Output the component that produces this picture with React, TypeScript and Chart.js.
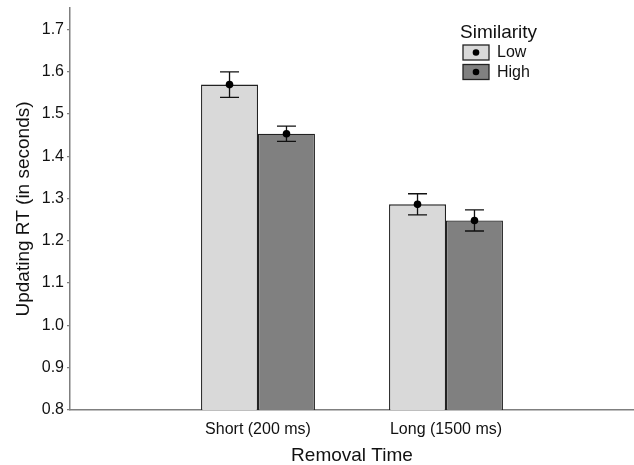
import React, { useEffect, useRef } from "react";
import { Chart, registerables } from "chart.js";

Chart.register(...registerables);

const categories = ["Short (200 ms)", "Long (1500 ms)"];
const seriesNames = ["Low", "High"];
const lowMeans = [1.569, 1.286];
const highMeans = [1.453, 1.248];
const lowErrors = [0.030, 0.025];
const highErrors = [0.018, 0.025];
const yTicks = [0.8, 0.9, 1.0, 1.1, 1.2, 1.3, 1.4, 1.5, 1.6, 1.7];
const yMin = 0.8;
const yMax = 1.75;
const legendTitle = "Similarity";
const xTitle = "Removal Time";
const yTitle = "Updating RT (in seconds)";

const FONT = "'Liberation Sans', Arial, Helvetica, sans-serif";
const LIGHT = "#d9d9d9";
const DARK = "#808080";
const EDGE = "#222222";
const AXIS = "#7f7f7f";

const errorsBySeries = [lowErrors, highErrors];

const errorBarPlugin = {
  id: "errorBars",
  afterDatasetsDraw(chart: any) {
    const ctx = chart.ctx;
    const y = chart.scales.y;
    chart.data.datasets.forEach((ds: any, di: number) => {
      const meta = chart.getDatasetMeta(di);
      meta.data.forEach((el: any, i: number) => {
        const v = ds.data[i];
        if (v === null || v === undefined) return;
        const err = errorsBySeries[di][i - 1];
        const x = el.x;
        const yt = y.getPixelForValue(v + err);
        const yb = y.getPixelForValue(v - err);
        const ym = y.getPixelForValue(v);
        ctx.save();
        ctx.strokeStyle = "#111";
        ctx.lineWidth = 1.3;
        ctx.beginPath();
        ctx.moveTo(x, yt);
        ctx.lineTo(x, yb);
        ctx.moveTo(x - 9.5, yt);
        ctx.lineTo(x + 9.5, yt);
        ctx.moveTo(x - 9.5, yb);
        ctx.lineTo(x + 9.5, yb);
        ctx.stroke();
        ctx.fillStyle = "#000";
        ctx.beginPath();
        ctx.arc(x, ym, 3.8, 0, Math.PI * 2);
        ctx.fill();
        ctx.restore();
      });
    });
  },
};

const legendPlugin = {
  id: "customLegend",
  afterDraw(chart: any) {
    const ctx = chart.ctx;
    const area = chart.chartArea;
    const lx = area.left + 393;
    const ty = area.top + 24;
    ctx.save();
    ctx.fillStyle = "#111";
    ctx.textBaseline = "middle";
    ctx.textAlign = "left";
    ctx.font = `19px ${FONT}`;
    ctx.fillText(legendTitle, lx - 3, ty + 1);
    const colors = [LIGHT, DARK];
    seriesNames.forEach((name, i) => {
      const by = ty + 13 + i * 19.5;
      ctx.fillStyle = colors[i];
      ctx.fillRect(lx, by, 26, 15);
      ctx.strokeStyle = EDGE;
      ctx.lineWidth = 1.3;
      ctx.strokeRect(lx, by, 26, 15);
      ctx.fillStyle = "#000";
      ctx.beginPath();
      ctx.arc(lx + 13, by + 7.5, 3.3, 0, Math.PI * 2);
      ctx.fill();
      ctx.fillStyle = "#111";
      ctx.font = `16px ${FONT}`;
      ctx.fillText(name, lx + 34, by + 8);
    });
    ctx.restore();
  },
};

export default function App() {
  const ref = useRef<HTMLCanvasElement | null>(null);
  useEffect(() => {
    if (!ref.current) return;
    const labels = ["", ...categories, ""];
    const chart = new Chart(ref.current, {
      type: "bar",
      data: {
        labels,
        datasets: [
          {
            label: seriesNames[0],
            data: [null, ...lowMeans, null],
            backgroundColor: LIGHT,
            borderColor: EDGE,
            borderWidth: 1.3,
          },
          {
            label: seriesNames[1],
            data: [null, ...highMeans, null],
            backgroundColor: DARK,
            borderColor: EDGE,
            borderWidth: 1.3,
          },
        ],
      },
      options: {
        responsive: false,
        animation: false,
        devicePixelRatio: 1,
        layout: { padding: { top: 8, left: 0, right: 0, bottom: 0 } },
        datasets: {
          bar: { categoryPercentage: 0.606, barPercentage: 1 },
        },
        plugins: {
          legend: { display: false },
          tooltip: { enabled: false },
        },
        scales: {
          x: {
            type: "category",
            offset: false,
            grid: { drawOnChartArea: false, drawTicks: false },
            border: { display: true, color: AXIS, width: 1.5 },
            ticks: {
              autoSkip: false,
              maxRotation: 0,
              padding: 10,
              color: "#111",
              font: { family: FONT, size: 16 },
            },
            title: {
              display: true,
              text: xTitle,
              color: "#111",
              font: { family: FONT, size: 19, lineHeight: 1 },
              padding: { top: 0, bottom: 0 },
            },
            afterFit(scale: any) {
              scale.height = 55;
              scale.paddingLeft = 0;
              scale.paddingRight = 0;
            },
          },
          y: {
            type: "linear",
            min: yMin,
            max: yMax,
            grid: { drawOnChartArea: false, drawTicks: true, tickLength: 3, color: AXIS, lineWidth: 1.2 },
            border: { display: true, color: AXIS, width: 1.5 },
            ticks: {
              padding: 3,
              color: "#111",
              font: { family: FONT, size: 16 },
              callback: (v: any) => Number(v).toFixed(1),
            },
            afterBuildTicks(scale: any) {
              scale.ticks = yTicks.map((v) => ({ value: v }));
            },
            title: {
              display: true,
              text: yTitle,
              color: "#111",
              font: { family: FONT, size: 19, lineHeight: 1 },
              padding: { top: 14, bottom: 0 },
            },
            afterFit(scale: any) {
              scale.width = 70;
              scale.paddingTop = 0;
              scale.paddingBottom = 0;
            },
          },
        },
      } as any,
      plugins: [errorBarPlugin, legendPlugin],
    });
    return () => chart.destroy();
  }, []);
  return (
    <div style={{ position: "absolute", left: 0, top: 0, width: 634, height: 465, background: "#fff" }}>
      <canvas ref={ref} width={634} height={465} style={{ display: "block", width: 634, height: 465 }} />
    </div>
  );
}
